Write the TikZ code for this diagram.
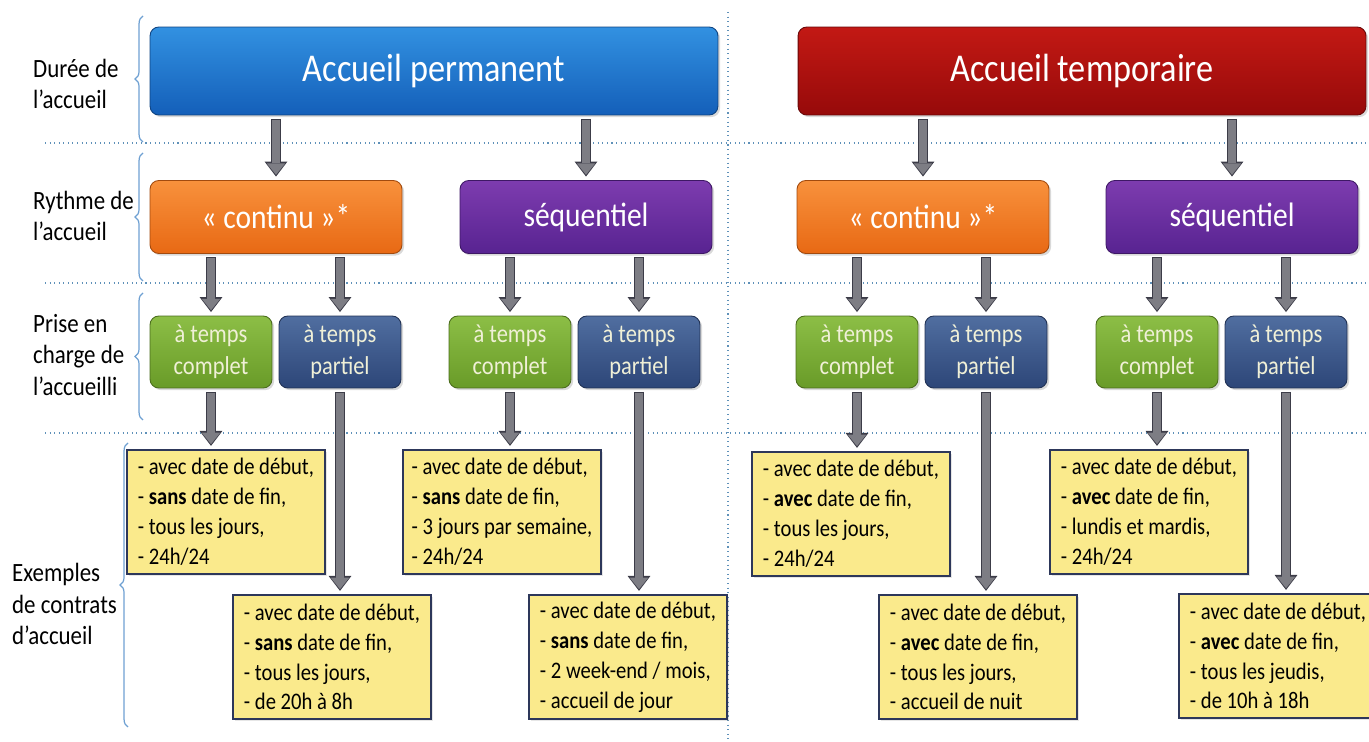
\documentclass[tikz,border=0pt]{standalone}
\usepackage{fontspec}
\setmainfont{Carlito}[FakeStretch=0.87]
\usetikzlibrary{arrows.meta,decorations.pathreplacing,shadows}

\definecolor{permTop}{RGB}{50,145,225}
\definecolor{permBot}{RGB}{20,95,185}
\definecolor{tempTop}{RGB}{195,25,20}
\definecolor{tempBot}{RGB}{150,10,10}
\definecolor{contTop}{RGB}{248,145,60}
\definecolor{contBot}{RGB}{232,105,20}
\definecolor{seqTop}{RGB}{125,60,175}
\definecolor{seqBot}{RGB}{88,35,145}
\definecolor{compTop}{RGB}{140,190,70}
\definecolor{compBot}{RGB}{105,155,40}
\definecolor{partTop}{RGB}{80,110,160}
\definecolor{partBot}{RGB}{45,70,120}
\definecolor{chargetext}{RGB}{240,240,215}
\definecolor{contratfill}{RGB}{250,234,140}
\definecolor{contratline}{RGB}{45,55,90}
\definecolor{arrfill}{RGB}{125,125,132}
\definecolor{arrline}{RGB}{60,60,72}
\definecolor{gridline}{RGB}{95,145,185}
\definecolor{bracecol}{RGB}{110,160,210}

\begin{document}
\begin{tikzpicture}[x=0.02cm, y=-0.02cm,
  font=\fontsize{15}{18}\selectfont,
  box/.style={rounded corners=5pt, draw=#1Bot!70!black, line width=0.5pt,
    top color=#1Top, bottom color=#1Bot, text=white,
    drop shadow={opacity=0.3, shadow xshift=1.2pt, shadow yshift=-1.2pt}},
  topbox/.style={box=#1, minimum width=11.36cm, minimum height=1.76cm,
    font=\fontsize{22.4}{26}\selectfont},
  rhythm/.style={box=#1, minimum width=5.04cm, minimum height=1.46cm,
    font=\fontsize{19.3}{22}\selectfont},
  charge/.style={box=#1, minimum width=2.44cm, minimum height=1.44cm,
    align=center, text=chargetext, font=\fontsize{14.7}{18}\selectfont},
  contrat/.style={draw=contratline, fill=contratfill, line width=0.7pt,
    minimum width=3.96cm, minimum height=2.48cm, align=left, inner xsep=2pt,
    font=\fontsize{13.5}{17}\selectfont,
    drop shadow={opacity=0.2, shadow xshift=1pt, shadow yshift=-1pt}},
  rowlabel/.style={anchor=west, align=left},
  flow/.style={draw=arrfill, line width=4.4pt, shorten <=2.5pt, shorten >=3pt,
    -{Triangle[width=10.5pt,length=6.5pt,line width=0pt]},
    preaction={draw=arrline, line width=5.8pt, shorten <=2pt, shorten >=2pt,
      -{Triangle[width=13pt,length=8.5pt,line width=0pt]}}},
  sep/.style={draw=gridline, dotted, line width=0.6pt},
  lbrace/.style={draw=bracecol, line width=0.7pt,
    decorate, decoration={brace, amplitude=4.5pt}}
]
\useasboundingbox (0,0) rectangle (1369,742);

% Grid
\draw[sep] (45,143) -- (1369,143);
\draw[sep] (45,283) -- (1369,283);
\draw[sep] (45,433) -- (1369,433);
\draw[sep] (728,12) -- (728,742);

% Row labels
\node[rowlabel] (lab1) at (27,84) {Durée de\\l’accueil};
\node[rowlabel] (lab2) at (27,216) {Rythme de\\l’accueil};
\node[rowlabel] (lab3) at (27,355) {Prise en\\charge de\\l’accueilli};
\node[rowlabel] (lab4) at (6,604) {Exemples\\de contrats\\d’accueil};

% Braces
\draw[lbrace] (143,142) -- (143,16);
\draw[lbrace] (143,281) -- (143,153);
\draw[lbrace] (143,420) -- (143,293);
\draw[lbrace] (128,727) -- (128,443);

% Duree
\node[topbox=perm] (perm) at (434,71) {Accueil permanent};
\node[topbox=temp] (temp) at (1082,71) {Accueil temporaire};

% Rythme
\node[rhythm=cont] (cont1) at (276,217) {«~continu~»*};
\node[rhythm=seq] (seq1) at (586,217) {séquentiel};
\node[rhythm=cont] (cont2) at (923,217) {«~continu~»*};
\node[rhythm=seq] (seq2) at (1232,217) {séquentiel};

% Prise en charge
\node[charge=comp] (comp1) at (211,352) {à temps\\complet};
\node[charge=part] (part1) at (340,352) {à temps\\partiel};
\node[charge=comp] (comp2) at (510,352) {à temps\\complet};
\node[charge=part] (part2) at (639,352) {à temps\\partiel};
\node[charge=comp] (comp3) at (857,352) {à temps\\complet};
\node[charge=part] (part3) at (986,352) {à temps\\partiel};
\node[charge=comp] (comp4) at (1157,352) {à temps\\complet};
\node[charge=part] (part4) at (1286,352) {à temps\\partiel};

% Exemples
\node[contrat] (ex1) at (226,512) {- avec date de début,\\- \textbf{sans} date de fin,\\- tous les jours,\\- 24h/24};
\node[contrat] (ex2) at (332,657) {- avec date de début,\\- \textbf{sans} date de fin,\\- tous les jours,\\- de 20h à 8h};
\node[contrat] (ex3) at (502,512) {- avec date de début,\\- \textbf{sans} date de fin,\\- 3 jours par semaine,\\- 24h/24};
\node[contrat] (ex4) at (628,657) {- avec date de début,\\- \textbf{sans} date de fin,\\- 2 week-end / mois,\\- accueil de jour};
\node[contrat] (ex5) at (851,514) {- avec date de début,\\- \textbf{avec} date de fin,\\- tous les jours,\\- 24h/24};
\node[contrat] (ex6) at (978,657) {- avec date de début,\\- \textbf{avec} date de fin,\\- tous les jours,\\- accueil de nuit};
\node[contrat] (ex7) at (1149,512) {- avec date de début,\\- \textbf{avec} date de fin,\\- lundis et mardis,\\- 24h/24};
\node[contrat] (ex8) at (1278,656) {- avec date de début,\\- \textbf{avec} date de fin,\\- tous les jeudis,\\- de 10h à 18h};

% Arrows
\foreach \parent/\sub in {perm/cont1, perm/seq1, temp/cont2, temp/seq2,
    cont1/comp1, cont1/part1, seq1/comp2, seq1/part2,
    cont2/comp3, cont2/part3, seq2/comp4, seq2/part4}
  \draw[flow] (\parent.south -| \sub) -- (\sub.north);
\foreach \sub/\ex in {comp1/ex1, part1/ex2, comp2/ex3, part2/ex4,
    comp3/ex5, part3/ex6, comp4/ex7, part4/ex8}
  \draw[flow] (\sub.south) -- (\sub.south |- \ex.north);
\end{tikzpicture}
\end{document}
